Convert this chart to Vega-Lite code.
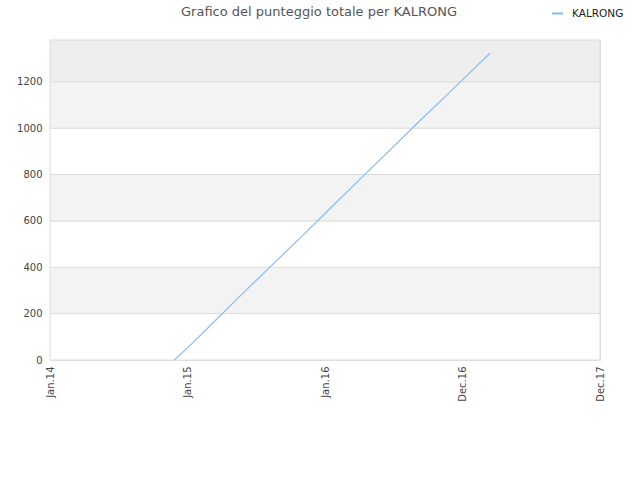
{
  "$schema": "https://vega.github.io/schema/vega-lite/v6.json",
  "width": 550,
  "height": 320,
  "autosize": {"type": "none"},
  "padding": {"left": 50, "top": 40, "right": 40, "bottom": 120},
  "background": "white",
  "config": {
    "font": "DejaVu Sans",
    "view": {"stroke": "#dddddd", "strokeWidth": 1},
    "axisY": {
      "title": null,
      "values": [0, 200, 400, 600, 800, 1000, 1200],
      "format": "d",
      "labelFontSize": 10,
      "labelColor": "#444444",
      "labelPadding": 8,
      "grid": false,
      "domain": false,
      "ticks": false
    }
  },
  "title": {
    "text": "Grafico del punteggio totale per KALRONG",
    "fontSize": 13,
    "fontWeight": "normal",
    "color": "#555555",
    "anchor": "middle",
    "dx": -6,
    "offset": 0,
    "dy": 12
  },
  "datasets": {
    "bands": [
      {"from": 0, "to": 200, "shade": "white"},
      {"from": 200, "to": 400, "shade": "light"},
      {"from": 400, "to": 600, "shade": "white"},
      {"from": 600, "to": 800, "shade": "light"},
      {"from": 800, "to": 1000, "shade": "white"},
      {"from": 1000, "to": 1200, "shade": "light"},
      {"from": 1200, "to": 1380, "shade": "dark"}
    ],
    "score": [
      {"date": "2014-11-27", "points": 0, "player": "KALRONG"},
      {"date": "2015-01-06", "points": 60, "player": "KALRONG"},
      {"date": "2015-03-22", "points": 180, "player": "KALRONG"},
      {"date": "2015-06-05", "points": 300, "player": "KALRONG"},
      {"date": "2015-08-20", "points": 420, "player": "KALRONG"},
      {"date": "2015-11-06", "points": 542, "player": "KALRONG"},
      {"date": "2016-01-20", "points": 662, "player": "KALRONG"},
      {"date": "2016-04-05", "points": 783, "player": "KALRONG"},
      {"date": "2016-06-20", "points": 903, "player": "KALRONG"},
      {"date": "2016-09-04", "points": 1024, "player": "KALRONG"},
      {"date": "2016-11-19", "points": 1142, "player": "KALRONG"},
      {"date": "2017-02-03", "points": 1262, "player": "KALRONG"},
      {"date": "2017-03-14", "points": 1323, "player": "KALRONG"}
    ]
  },
  "layer": [
    {
      "data": {"name": "bands"},
      "mark": {"type": "rect", "stroke": "#dddddd", "strokeWidth": 1},
      "encoding": {
        "y": {"field": "from", "type": "quantitative", "scale": {"domain": [0, 1380], "nice": false}},
        "y2": {"field": "to"},
        "fill": {
          "field": "shade",
          "type": "nominal",
          "scale": {"domain": ["white", "light", "dark"], "range": ["#ffffff", "#f3f3f3", "#eeeeee"]},
          "legend": null
        }
      }
    },
    {
      "data": {"name": "score"},
      "mark": {"type": "line", "strokeWidth": 1.2, "clip": true},
      "encoding": {
        "x": {
          "field": "date",
          "type": "temporal",
          "scale": {
            "type": "utc",
            "domain": [
              {"year": 2014, "month": 1, "date": 1, "utc": true},
              {"year": 2017, "month": 12, "date": 31, "utc": true}
            ]
          },
          "axis": {
            "title": null,
            "values": [
              {"year": 2014, "month": 1, "date": 1, "utc": true},
              {"year": 2015, "month": 1, "date": 1, "utc": true},
              {"year": 2016, "month": 1, "date": 1, "utc": true},
              {"year": 2016, "month": 12, "date": 31, "utc": true},
              {"year": 2017, "month": 12, "date": 31, "utc": true}
            ],
            "labelExpr": "utcFormat(datum.value, '%b.%y')",
            "labelAngle": -90,
            "labelAlign": "right",
            "labelBaseline": "middle",
            "labelFontSize": 10,
            "labelColor": "#444444",
            "labelPadding": 6,
            "labelOverlap": false,
            "labelFlush": false,
            "grid": false,
            "domain": true,
            "domainColor": "#dddddd",
            "ticks": false
          }
        },
        "y": {"field": "points", "type": "quantitative", "scale": {"domain": [0, 1380], "nice": false}},
        "color": {
          "field": "player",
          "type": "nominal",
          "scale": {"range": ["#88bbf0"]},
          "legend": {
            "title": null,
            "orient": "none",
            "legendX": 501,
            "legendY": -33,
            "symbolType": "stroke",
            "symbolSize": 120,
            "symbolStrokeWidth": 2,
            "labelFontSize": 10.5,
            "labelColor": "#222222",
            "labelOffset": 8
          }
        }
      }
    }
  ]
}
